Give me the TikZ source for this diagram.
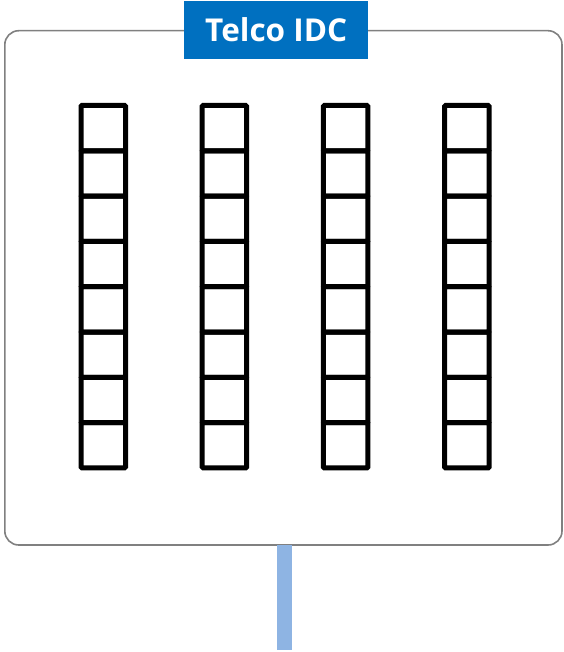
\documentclass[tikz,border=0pt]{standalone}
\usepackage{fontspec}
\setmainfont{Open Sans}
\definecolor{titleblue}{HTML}{0070C0}
\definecolor{linkblue}{HTML}{8EB4E3}
\definecolor{boxgray}{HTML}{808080}
\tikzset{
  rackcell/.style={draw=black,line width=5pt,rounded corners=1pt},
  idcbox/.style={draw=boxgray,line width=1.6pt,rounded corners=14pt}
}
\begin{document}
\begin{tikzpicture}[x=1pt,y=-1pt]
                \useasboundingbox (0,0) rectangle (563,652);
                
                \draw[idcbox] (4.8,30.7) rectangle (562,545);
                
                \node[fill=titleblue,minimum width=184pt,minimum height=57.7pt,inner sep=0pt,anchor=north west] (title) at (184,1) {};
                \node[text=white,font=\fontsize{31.5}{33}\selectfont\bfseries] (titletext) at ([yshift=0.5pt]title.center) {Telco IDC};
                
                \foreach \c in {0,...,3}
                  \foreach \r in {0,...,7}
                    \draw[rackcell] ({81+121.2*\c},{105.5+45.3*\r}) rectangle ++(44.5,45.3);
                
                \coordinate (linktop) at (284.5,545);
                \coordinate (linkend) at (284.5,650);
                \draw[linkblue,line width=15.5pt] (linktop) -- (linkend);
            \end{tikzpicture}
\end{document}
